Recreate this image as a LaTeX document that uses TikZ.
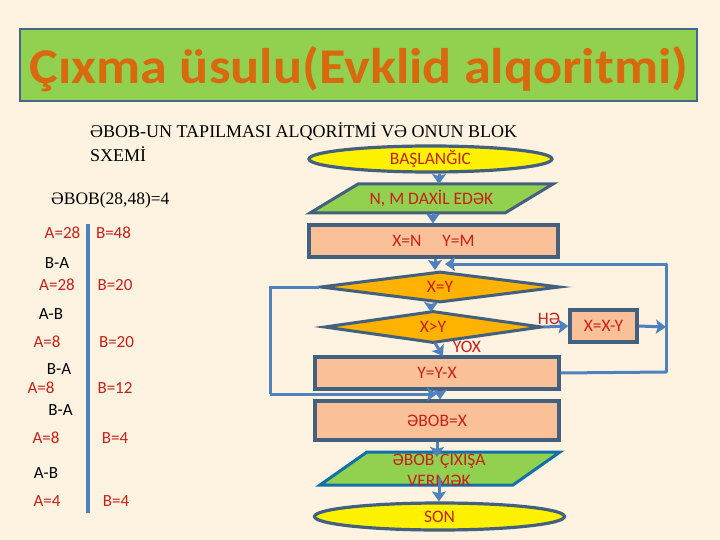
\documentclass[tikz,border=0pt]{standalone}
\usepackage{fontspec}
\setmainfont{Carlito}
\newfontfamily\serifface{Liberation Serif}
\usetikzlibrary{shapes.geometric,arrows.meta,calc}
\definecolor{pagebg}{HTML}{FDF3E0}
\definecolor{edgeblue}{HTML}{44607F}
\definecolor{linkblue}{HTML}{4F81BD}
\definecolor{txtred}{HTML}{C8201A}
\definecolor{boxpeach}{HTML}{FAC097}
\definecolor{leafgreen}{HTML}{92D050}
\definecolor{amberfill}{HTML}{FFB300}
\definecolor{outlineteal}{HTML}{1070A8}
\definecolor{titleorange}{HTML}{D9690F}
\tikzset{
  x=1pt,y=-1pt,
  shapetxt/.style={text=txtred,font=\fontsize{17.5}{21}\selectfont,inner sep=0pt,align=center},
  oval/.style={ellipse,draw=edgeblue,line width=3.2pt,fill=yellow,shapetxt},
  procbox/.style={rectangle,draw=edgeblue,line width=3.2pt,fill=boxpeach,shapetxt},
  decide/.style={diamond,draw=edgeblue,line width=3pt,fill=amberfill,shapetxt,shape aspect=8},
  iobox/.style={rectangle,inner sep=0pt,outer sep=0pt},
  ioedge/.style={draw=edgeblue,line width=3pt,fill=leafgreen},
  flowlink/.style={draw=linkblue,line width=3pt,-{Stealth[length=10pt,width=14pt,inset=2pt]}},
  plainlink/.style={draw=linkblue,line width=3pt},
  redval/.style={text=txtred,font=\fontsize{17}{20}\selectfont,inner sep=0pt},
  blackop/.style={text=black,font=\fontsize{17}{20}\selectfont,inner sep=0pt},
  serifline/.style={text=black,font=\serifface\fontsize{18}{20}\selectfont,inner sep=0pt,anchor=west},
  labeltxt/.style={text=txtred,font=\fontsize{17.5}{21}\selectfont,inner sep=0pt}
}
\begin{document}
\begin{tikzpicture}
\useasboundingbox (0,0) rectangle (720,540);
\fill[pagebg] (0,0) rectangle (720,540);
% title
\node[name=titlebar,draw=edgeblue!80!linkblue,line width=2.6pt,fill=leafgreen,minimum width=677pt,minimum height=72pt,inner sep=0pt] at (358.5,65) {};
\node[name=titletext,text=titleorange,inner sep=0pt] at (359,69) {\scalebox{1.085}[1.0]{\fontsize{50}{56}\selectfont\bfseries Çıxma üsulu(Evklid alqoritmi)}};
% left text
\node[serifline,name=headone] at (90,132) {ƏBOB-UN TAPILMASI ALQORİTMİ VƏ ONUN BLOK};
\node[serifline,name=headtwo] at (90,154) {SXEMİ};
\node[serifline,name=gcdline,font=\serifface\fontsize{17.5}{20}\selectfont] at (51,200) {ƏBOB(28,48)=4};
% left columns
\coordinate (bartop) at (88,224);
\coordinate (barbot) at (88,513);
\draw[draw=linkblue,line width=4pt] (bartop) -- (barbot);
\node[redval,name=a1] at (62.5,233) {A=28};
\node[redval,name=b1] at (113.5,233) {B=48};
\node[blackop,name=o1] at (57,263) {B-A};
\node[redval,name=a2] at (57,285) {A=28};
\node[redval,name=b2] at (115,285) {B=20};
\node[blackop,name=o2] at (51,314) {A-B};
\node[redval,name=a3] at (47,342) {A=8};
\node[redval,name=b3] at (116.5,342) {B=20};
\node[blackop,name=o3] at (59,369) {B-A};
\node[redval,name=a4] at (41,388) {A=8};
\node[redval,name=b4] at (115,388) {B=12};
\node[blackop,name=o4] at (60.5,410) {B-A};
\node[redval,name=a5] at (46,438) {A=8};
\node[redval,name=b5] at (115,438) {B=4};
\node[blackop,name=o5] at (46,473) {A-B};
\node[redval,name=a6] at (47,501) {A=4};
\node[redval,name=b6] at (116,501) {B=4};
% flowchart
\node[oval,name=start,minimum width=243pt,minimum height=26pt] at (430.5,159) {BAŞLANĞIC};
\node[iobox,name=inp,minimum width=243pt,minimum height=29pt] at (431.5,198.5) {};
\draw[ioedge] ([xshift=48pt]inp.north west) -- (inp.north east) -- ([xshift=-48pt]inp.south east) -- (inp.south west) -- cycle;
\node[shapetxt,name=inptxt] at (inp.center) {N, M DAXİL EDƏK};
\node[procbox,name=init,minimum width=249pt,minimum height=32pt] at (433.5,241) {X=N\hspace{1.2em}Y=M};
\node[decide,name=eqtest,minimum width=240pt,minimum height=31pt] at (440,287) {X=Y};
\node[decide,name=gttest,minimum width=218pt,minimum height=32pt] at (433,327) {X>Y};
\node[procbox,name=subx,minimum width=67pt,minimum height=32pt] at (603.5,326) {X=X-Y};
\node[procbox,name=suby,minimum width=244pt,minimum height=32pt] at (437,373) {Y=Y-X};
\node[procbox,name=result,minimum width=244pt,minimum height=39pt] at (437,420.5) {ƏBOB=X};
\node[iobox,name=outp,minimum width=240pt,minimum height=33pt] at (440,468.5) {};
\draw[ioedge,draw=outlineteal] ([xshift=47pt]outp.north west) -- (outp.north east) -- ([xshift=-47pt]outp.south east) -- (outp.south west) -- cycle;
\node[name=outtxt,shapetxt,text width=140pt,font=\fontsize{17.5}{21}\selectfont] at (439,470) {ƏBOB ÇIXIŞA\\VERMƏK};
\node[oval,name=finish,minimum width=250pt,minimum height=27pt] at (439.5,516.5) {SON};
\node[labeltxt,name=yeslabel] at (549,319) {HƏ};
\node[labeltxt,name=nolabel] at (467,347) {YOX};
% connectors
\coordinate (rightrail) at (666,327);
\coordinate (righttop) at (666,264);
\coordinate (rightbot) at (666,372);
\coordinate (leftrailtop) at (270,287);
\coordinate (leftrailbot) at (270,394);
\draw[flowlink] (start.south -| 439,0) -- (inp.north -| 439,0);
\draw[flowlink] (inp.south -| 433,0) -- (init.north -| 433,0);
\draw[flowlink] (init.south -| 435,0) -- (eqtest.north -| 435,0);
\draw[flowlink] (righttop) -- (445,264);
\draw[plainlink,line cap=round] (rightbot) -- (righttop);
\draw[plainlink] (suby.east) -- (rightbot);
\draw[flowlink] (subx.east) -- (rightrail);
\draw[flowlink] (eqtest.south -| 431,0) -- (431,312);
\draw[flowlink] (gttest.east) -- (subx.west);
\draw[flowlink] (435,343) -- (443,356);
\draw[plainlink] (eqtest.west) -- (leftrailtop) -- (leftrailbot);
\draw[flowlink] (leftrailbot) -- (437,394);
\draw[flowlink] (suby.south -| 440,0) -- (result.north -| 440,0);
\draw[flowlink] (result.south -| 437,0) -- (437,457);
\draw[flowlink] (439,478) -- (finish.north -| 439,0);
\end{tikzpicture}
\end{document}
